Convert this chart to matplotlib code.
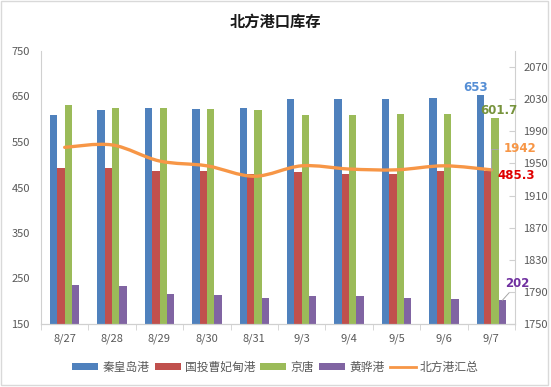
import matplotlib
matplotlib.use('Agg')
import matplotlib.pyplot as plt
from matplotlib.path import Path
from matplotlib.patches import PathPatch, Rectangle, Patch
from matplotlib.lines import Line2D
import numpy as np

plt.rcParams['font.family'] = ['Noto Sans CJK SC', 'DejaVu Sans']

# data
dates = ['8/27', '8/28', '8/29', '8/30', '8/31', '9/3', '9/4', '9/5', '9/6', '9/7']
qhd = [609, 620, 625, 623, 625, 644.5, 644.5, 644.5, 647, 653]
cfd = [492, 492, 486, 486, 480, 483, 479, 479, 486, 485.3]
jingtang = [632, 625, 625, 623, 621, 609, 609, 611, 611, 601.7]
huanghua = [236, 233.5, 216, 214, 208, 211.5, 211.5, 208, 205.6, 202]
total = [1970, 1973, 1953, 1947, 1934, 1947, 1943, 1942, 1947, 1942]

series_names = ['秦皇岛港', '国投曹妃甸港', '京唐', '黄骅港']
line_name = '北方港汇总'
colors = ['#4F81BD', '#C0504D', '#9BBB59', '#8064A2']
line_color = '#F79646'
grey_txt = '#595959'
spine_c = '#D0D0D0'

fig = plt.figure(figsize=(5.51, 3.87), dpi=100)
ax = fig.add_axes([41/551, 1-324/387, (515-41)/551, (324-51)/387])
ax2 = ax.twinx()

x = np.arange(len(dates))
w = 0.155
all_bars = [qhd, cfd, jingtang, huanghua]
for i, vals in enumerate(all_bars):
    ax.bar(x + (i - 1.5) * w, np.array(vals) - 150, bottom=150, width=w,
           color=colors[i], zorder=2)

ax.set_xlim(-0.5, len(dates) - 0.5)
ax.set_ylim(150, 750)
ax.set_yticks(range(150, 751, 100))
ax.set_xticks(x)
ax.set_xticklabels(dates)
ax.set_xticks(np.arange(-0.5, len(dates), 1), minor=True)
ax.tick_params(axis='x', which='major', length=0, pad=7, labelsize=8, labelcolor=grey_txt)
ax.tick_params(axis='x', which='minor', length=4, color=spine_c, direction='out')
ax.tick_params(axis='y', length=0, pad=8, labelsize=8, labelcolor=grey_txt)

ax2.set_ylim(1750, 2090)
ax2.set_yticks(range(1750, 2071, 40))
ax2.tick_params(axis='y', length=4, direction='in', color=spine_c, pad=6,
                labelsize=8, labelcolor=grey_txt)

for a in (ax, ax2):
    a.spines['top'].set_visible(False)
    a.spines['left'].set_color(spine_c)
    a.spines['right'].set_color(spine_c)
    a.spines['bottom'].set_color(spine_c)
ax2.spines['left'].set_visible(False)
ax.spines['right'].set_visible(False)

# smooth line (Catmull-Rom style beziers, like Excel smoothing)
pts = np.column_stack([x, total]).astype(float)
verts = [pts[0]]
codes = [Path.MOVETO]
n = len(pts)
for i in range(n - 1):
    p0 = pts[i - 1] if i > 0 else pts[i]
    p1 = pts[i]
    p2 = pts[i + 1]
    p3 = pts[i + 2] if i + 2 < n else pts[i + 1]
    c1 = p1 + (p2 - p0) / 6
    c2 = p2 - (p3 - p1) / 6
    verts += [c1, c2, p2]
    codes += [Path.CURVE4] * 3
ax2.add_patch(PathPatch(Path(verts, codes), facecolor='none', edgecolor=line_color,
                        lw=2.4, zorder=3, capstyle='round'))

# data labels for the last date (drawn on ax2 so they sit above the spine)
last = len(dates) - 1
lab = dict(textcoords='offset pixels', fontsize=8.5, fontweight='bold',
           family='DejaVu Sans', zorder=5)
ax2.annotate(f'{qhd[-1]:g}', (x[last] - 1.5 * w, qhd[-1]), xycoords=ax.transData,
             xytext=(-5, 1), ha='center', va='bottom', color='#558ED5', **lab)
ax2.annotate(f'{jingtang[-1]:g}', (x[last] + 0.5 * w, jingtang[-1]), xycoords=ax.transData,
             xytext=(4, 1), ha='center', va='bottom', color='#77933C', **lab)
ax2.annotate(f'{cfd[-1]:g}', (x[last] - 0.5 * w, cfd[-1]), xycoords=ax.transData,
             xytext=(10, -4), ha='left', va='center', color='#E00000', **lab)
ax2.annotate(f'{huanghua[-1]:g}', (x[last] + 1.5 * w, huanghua[-1]), xycoords=ax.transData,
             xytext=(3, 17), ha='left', va='center', color='#7030A0',
             arrowprops=dict(arrowstyle='-', color='#A6A6A6', lw=0.7,
                             shrinkA=0, shrinkB=0), **lab)
ax2.annotate(f'{total[-1]:g}', (x[last], total[-1]), xytext=(12, 21),
             ha='left', va='center', color=line_color,
             arrowprops=dict(arrowstyle='-', color='#A6A6A6', lw=0.7,
                             connectionstyle='angle,angleA=0,angleB=90,rad=0',
                             shrinkA=2, shrinkB=0), **lab)

fig.text(0.5, 1 - 22/387, '北方港口库存', ha='center', va='center',
         fontsize=11, fontweight='bold', color='#1A1A1A')

handles = [Patch(facecolor=c) for c in colors]
handles.append(Line2D([0], [0], color=line_color, lw=2))
leg = fig.legend(handles, series_names + [line_name], loc='center',
                 bbox_to_anchor=(0.5, 1 - 367/387), ncol=5, frameon=False,
                 fontsize=8.5, handlelength=2.2, handleheight=0.5,
                 handletextpad=0.35, columnspacing=0.45)
for t in leg.get_texts():
    t.set_color(grey_txt)

fig.patches.append(Rectangle((1/551, 2/387), 547/551, 384/387, transform=fig.transFigure,
                             fill=False, edgecolor='#D9D9D9', lw=1))

fig.savefig('out.png', dpi=100)
